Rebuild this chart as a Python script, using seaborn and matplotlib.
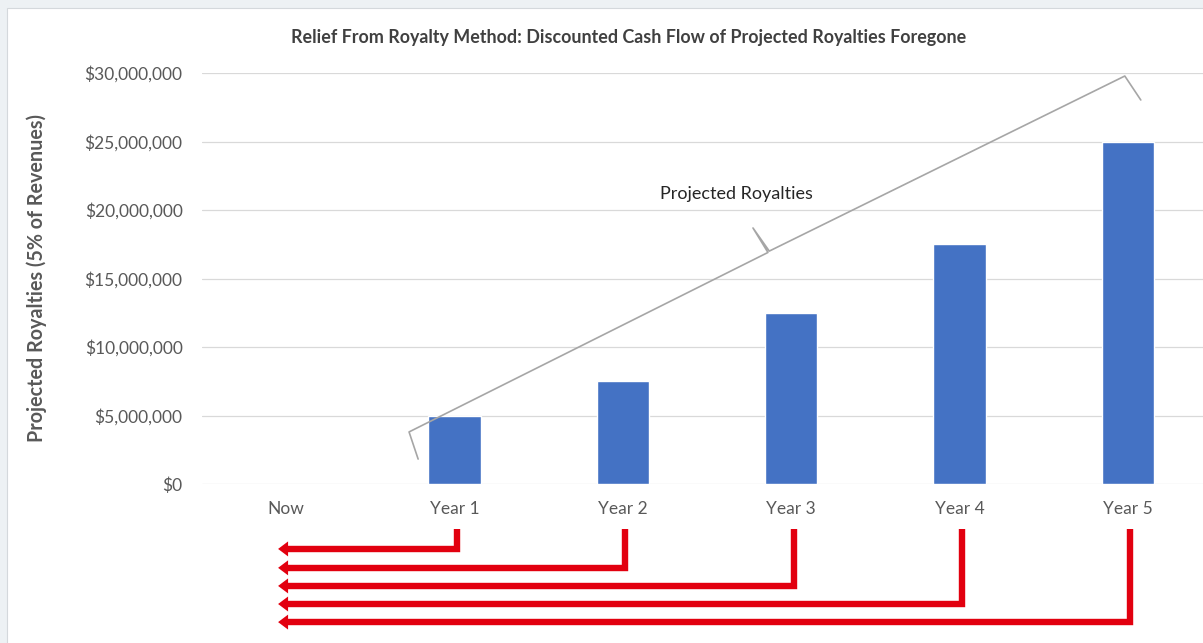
import matplotlib
matplotlib.use("Agg")
import matplotlib.pyplot as plt
import matplotlib.transforms as mtransforms
from matplotlib.patches import Rectangle, Polygon
from matplotlib.ticker import FuncFormatter
import seaborn as sns
import pandas as pd

# Data
periods = ["Now", "Year 1", "Year 2", "Year 3", "Year 4", "Year 5"]
royalties = [0, 5_000_000, 7_500_000, 12_500_000, 17_500_000, 25_000_000]
y_ticks = [0, 5_000_000, 10_000_000, 15_000_000, 20_000_000, 25_000_000, 30_000_000]

title = "Relief From Royalty Method: Discounted Cash Flow of Projected Royalties Foregone"
y_label = "Projected Royalties (5% of Revenues)"
brace_label = "Projected Royalties"

BAR = "#4472C4"
GRID = "#D9D9D9"
TXT = "#595959"
RED = "#E2000F"
BRACE = "#A6A6A6"

sns.set_theme(style="white")
plt.rcParams["font.family"] = ["Lato", "DejaVu Sans"]

W, H = 1203, 643
fig = plt.figure(figsize=(W / 100, H / 100), dpi=100)
fig.patch.set_facecolor("#EDF1F4")
fig.add_artist(Rectangle((7 / W, -0.01), 1.0, (H - 8) / H + 0.01, transform=fig.transFigure,
                         facecolor="white", edgecolor="#D4D8DC", lw=0.8, zorder=0))

# axes: value 0 at y=484px, 30M at y=73px; categories spaced ~168px starting at x=286
ax = fig.add_axes([202 / W, (H - 484) / H, 1010 / W, 411 / H])
ax.set_facecolor("none")

df = pd.DataFrame({"period": periods, "royalty": royalties})
sns.barplot(data=df, x="period", y="royalty", color=BAR, saturation=1, width=0.31, ax=ax, zorder=3)

ax.set_xlim(-0.5, 5.5)
ax.set_ylim(0, 30_000_000)
ax.set_yticks(y_ticks)
ax.yaxis.set_major_formatter(FuncFormatter(lambda v, p: f"${v:,.0f}"))
ax.grid(axis="y", color=GRID, lw=0.9, zorder=0)
ax.set_axisbelow(True)
for s in ax.spines.values():
    s.set_visible(False)
ax.tick_params(axis="y", length=0, pad=14, labelsize=12.5, labelcolor=TXT)
ax.tick_params(axis="x", length=0, pad=12, labelsize=12.5, labelcolor=TXT)
ax.set_xlabel("")
ax.set_ylabel(y_label, fontsize=14.2, fontweight="bold", color=TXT)
ax.yaxis.set_label_coords(-155 / 1010, 0.5)

fig.text(629 / W, 1 - 38 / H, title, ha="center", va="center", fontsize=12.9,
         fontweight="bold", color="#404040")

# curly brace spanning the projected years
bx = [0.784, 0.730, 2.862, 2.773, 2.870, 4.982, 5.077]
by = [1.82e6, 3.80e6, 16.90e6, 18.69e6, 17.00e6, 29.78e6, 28.03e6]
ax.plot(bx, by, color=BRACE, lw=1.2, solid_joinstyle="round", zorder=4, clip_on=False)
ax.text(2.672, 21.17e6, brace_label, ha="center", va="center", fontsize=13, color="#262626")

# discounting arrows back to "Now"
trans = mtransforms.blended_transform_factory(ax.transData, ax.transAxes)
tip_x = -0.048
head_len = 10 / 168.4
head_half = 7.5 / 411
top = -0.11
levels = [-0.158, -0.204, -0.248, -0.292, -0.336]
for k, lvl in enumerate(levels, start=1):
    xk = k + 0.015
    ax.plot([xk, xk, tip_x + head_len * 0.8], [top, lvl, lvl], color=RED, lw=4.6,
            solid_joinstyle="miter", solid_capstyle="butt", transform=trans, clip_on=False)
    ax.add_patch(Polygon([[tip_x, lvl], [tip_x + head_len, lvl + head_half],
                          [tip_x + head_len, lvl - head_half]], closed=True,
                         facecolor=RED, edgecolor="none", transform=trans, clip_on=False))

fig.savefig("out.png", dpi=100, facecolor=fig.get_facecolor())
